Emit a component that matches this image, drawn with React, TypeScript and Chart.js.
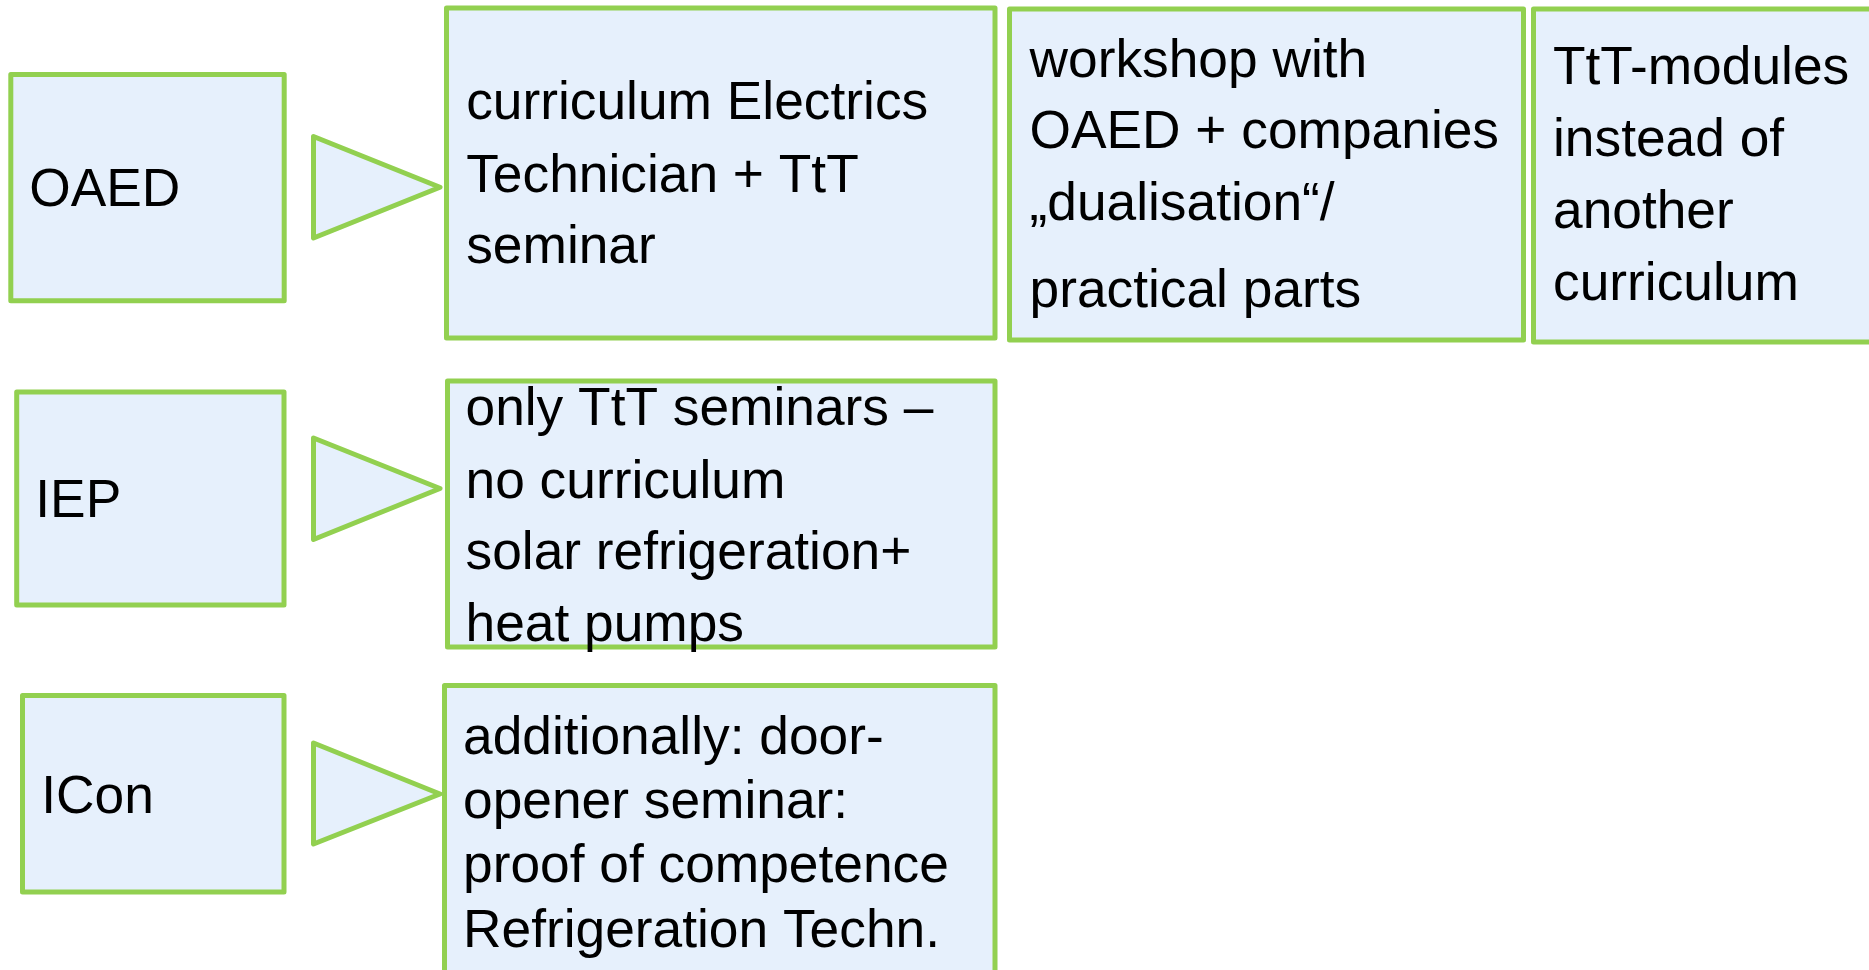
import React, { useEffect, useRef } from 'react';
import { Chart, registerables } from 'chart.js';

Chart.register(...registerables);

const CANVAS_W = 1869;
const CANVAS_H = 970;

// Boxes (diagram units on linear x / y scales)
const boxLeft = [10.8, 446.5, 1009.5, 1533.5, 16.7, 447.5, 22.5, 444.5];
const boxRight = [284.2, 995, 1523.5, 1880, 284, 995, 284, 995];
const boxTop = [74.5, 8, 9, 9, 392, 381, 695.5, 685.5];
const boxBottom = [300.8, 338, 340, 342, 605, 647, 892, 995];

// Text in each box
const boxLines: string[][] = [
  ['OAED'],
  ['curriculum Electrics', 'Technician + TtT', 'seminar'],
  ['workshop with', 'OAED + companies', '\u201Edualisation\u201C/', 'practical parts'],
  ['TtT-modules', 'instead of', 'another', 'curriculum'],
  ['IEP'],
  ['only TtT seminars \u2013', 'no curriculum', 'solar refrigeration+', 'heat pumps'],
  ['ICon'],
  ['additionally: door-', 'opener seminar:', 'proof of competence', 'Refrigeration Techn.'],
];
const textLeft = [29.2, 466.2, 1029.5, 1553, 35.3, 465.5, 41.2, 463];
const textBaselines: number[][] = [
  [206],
  [119, 191.7, 263],
  [76.7, 147.7, 220, 306.7],
  [84, 156, 228, 300],
  [516.7],
  [424.8, 497.5, 569.2, 640.8],
  [812.7],
  [754.2, 818.2, 882.2, 946.5],
];

// Arrow triangles
const triLeft = [313.5, 313.5, 313.5];
const triTop = [136.5, 438, 743];
const triBottom = [238, 539.5, 844];
const triTipX = [440, 440, 440];
const triTipY = [187.3, 488.5, 794];

const GREEN = '#92D050';
const FILL = '#E6F0FC';
const FONT = '53.3px "Liberation Sans", Arial, sans-serif';

export default function App() {
  const ref = useRef<HTMLCanvasElement>(null);

  useEffect(() => {
    document.body.style.margin = '0';
    const canvas = ref.current;
    if (!canvas) return;

    const diagramPlugin = {
      id: 'diagram',
      afterDatasetsDraw(chart: any) {
        const ctx = chart.ctx as CanvasRenderingContext2D;
        const xs = chart.scales.x;
        const ys = chart.scales.y;
        ctx.save();
        ctx.lineWidth = 5;
        ctx.strokeStyle = GREEN;
        // boxes
        for (let i = 0; i < boxLeft.length; i++) {
          const x0 = xs.getPixelForValue(boxLeft[i]);
          const x1 = xs.getPixelForValue(boxRight[i]);
          const y0 = ys.getPixelForValue(boxTop[i]);
          const y1 = ys.getPixelForValue(boxBottom[i]);
          ctx.lineJoin = 'round';
          ctx.beginPath();
          ctx.rect(x0, y0, x1 - x0, y1 - y0);
          ctx.fillStyle = FILL;
          ctx.fill();
          ctx.stroke();
        }
        // triangles
        for (let i = 0; i < triLeft.length; i++) {
          ctx.lineJoin = 'round';
          ctx.beginPath();
          ctx.moveTo(xs.getPixelForValue(triLeft[i]), ys.getPixelForValue(triTop[i]));
          ctx.lineTo(xs.getPixelForValue(triTipX[i]), ys.getPixelForValue(triTipY[i]));
          ctx.lineTo(xs.getPixelForValue(triLeft[i]), ys.getPixelForValue(triBottom[i]));
          ctx.closePath();
          ctx.fillStyle = FILL;
          ctx.fill();
          ctx.stroke();
        }
        // texts
        ctx.fillStyle = '#000000';
        ctx.font = FONT;
        ctx.textAlign = 'left';
        ctx.textBaseline = 'alphabetic';
        for (let i = 0; i < boxLines.length; i++) {
          const lines = boxLines[i];
          for (let j = 0; j < lines.length; j++) {
            ctx.fillText(
              lines[j],
              xs.getPixelForValue(textLeft[i]),
              ys.getPixelForValue(textBaselines[i][j])
            );
          }
        }
        ctx.restore();
      },
    };

    const chart = new Chart(canvas, {
      type: 'scatter',
      data: { datasets: [] },
      options: {
        animation: false,
        responsive: false,
        maintainAspectRatio: false,
        devicePixelRatio: 1,
        layout: { padding: 0 },
        plugins: {
          legend: { display: false },
          tooltip: { enabled: false },
          title: { display: false },
        },
        scales: {
          x: { type: 'linear', min: 0, max: CANVAS_W, display: false },
          y: { type: 'linear', min: 0, max: CANVAS_H, reverse: true, display: false },
        },
      },
      plugins: [diagramPlugin],
    });

    return () => chart.destroy();
  }, []);

  return (
    <div style={{ width: CANVAS_W, height: CANVAS_H, background: '#ffffff' }}>
      <canvas ref={ref} width={CANVAS_W} height={CANVAS_H} style={{ display: 'block' }} />
    </div>
  );
}
